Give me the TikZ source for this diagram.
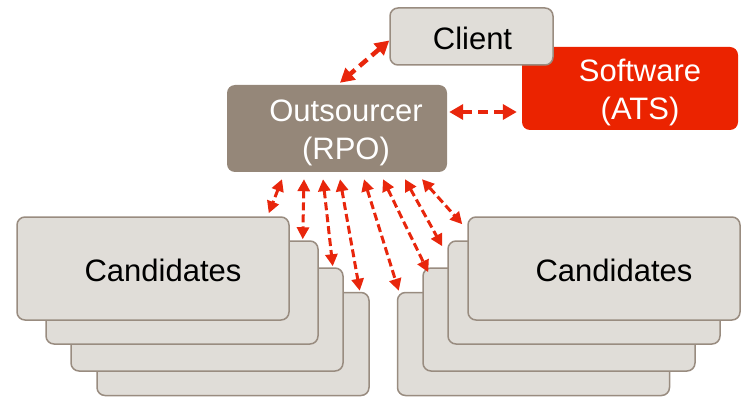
\documentclass[tikz,border=0pt]{standalone}
\usepackage{fontspec}
\setmainfont{Liberation Sans}
\usetikzlibrary{arrows.meta}
\definecolor{boxfill}{HTML}{E0DDD8}
\definecolor{boxline}{HTML}{998C80}
\definecolor{rpofill}{HTML}{958779}
\definecolor{atsred}{HTML}{EB2300}
\definecolor{arrred}{HTML}{E8260C}
\newcommand{\upstrut}[1]{\rule{0pt}{#1}}
\tikzset{
  lbl/.style={font=\fontsize{31}{38}\selectfont, align=center, inner sep=0pt},
  gbox/.style={lbl, draw=boxline, line width=1.5pt, fill=boxfill, rounded corners=8pt, text=black},
  rpobox/.style={lbl, fill=rpofill, rounded corners=8pt, text=white},
  atsbox/.style={lbl, fill=atsred, rounded corners=8pt, text=white},
  cand/.style={gbox, minimum width=272pt, minimum height=103pt},
  arr/.style={draw=arrred, line width=4.5pt, dash pattern=on 10pt off 6pt,
    {Triangle[length=14pt,width=15pt,fill=arrred]}-{Triangle[length=14pt,width=15pt,fill=arrred]}},
  arrs/.style={draw=arrred, line width=3pt, dash pattern=on 8pt off 4pt,
    {Triangle[length=12pt,width=12pt,fill=arrred]}-{Triangle[length=12pt,width=12pt,fill=arrred]}}
}
\begin{document}
\begin{tikzpicture}[x=1pt,y=-1pt]
\useasboundingbox (0,0) rectangle (741,398);
% top boxes
\node[atsbox, minimum width=216pt, minimum height=83pt] (s) at (630,88.5) {\upstrut{31pt}\hspace*{20pt}Software\\\hspace*{20pt}(ATS)};
\node[gbox, minimum width=163pt, minimum height=57pt] (c) at (471.5,36.5) {\upstrut{27pt}\hspace*{2pt}Client};
\node[rpobox, minimum width=220pt, minimum height=87pt] (o) at (337,128.5) {\upstrut{31pt}\hspace*{18pt}Outsourcer\\\hspace*{18pt}(RPO)};
% left stack
\node[cand] (L4) at (233,344) {};
\node[cand] (L3) at (207,319.5) {};
\node[cand] (L2) at (182,292.5) {};
\node[cand] (L1) at (153,268.5) {\upstrut{27pt}\hspace*{20pt}Candidates};
% right stack
\node[cand] (R4) at (533.5,344) {};
\node[cand] (R3) at (559,319.5) {};
\node[cand] (R2) at (584,292.5) {};
\node[cand] (R1) at (604,268.5) {\upstrut{27pt}\hspace*{20pt}Candidates};
% arrows top
\draw[arr] ([yshift=-4pt]c.west) -- ([xshift=3pt,yshift=2pt]o.north);
\draw[arr] ([xshift=2pt,yshift=16.5pt]o.east) -- ([xshift=-5pt,yshift=-23.5pt]s.west);
% arrows to candidates
\draw[arrs] ([xshift=-55pt,yshift=-7pt]o.south) -- ([xshift=-21pt,yshift=3pt]L1.north east);
\draw[arrs] ([xshift=-33pt,yshift=-7pt]o.south) -- ([xshift=-16pt,yshift=1pt]L2.north east);
\draw[arrs] ([xshift=-14pt,yshift=-7pt]o.south) -- ([xshift=-11pt,yshift=1pt]L3.north east);
\draw[arrs] ([xshift=3pt,yshift=-7pt]o.south) -- ([xshift=-10pt,yshift=1pt]L4.north east);
\draw[arrs] ([xshift=27pt,yshift=-7pt]o.south) -- ([xshift=2pt,yshift=1pt]R4.north west);
\draw[arrs] ([xshift=46pt,yshift=-7pt]o.south) -- ([xshift=6pt,yshift=-5pt]R3.north west);
\draw[arrs] ([xshift=68pt,yshift=-7pt]o.south) -- ([xshift=-5pt,yshift=-6pt]R2.north west);
\draw[arrs] ([xshift=85pt,yshift=-7pt]o.south) -- ([xshift=-5pt,yshift=-8pt]R1.north west);
\end{tikzpicture}
\end{document}
